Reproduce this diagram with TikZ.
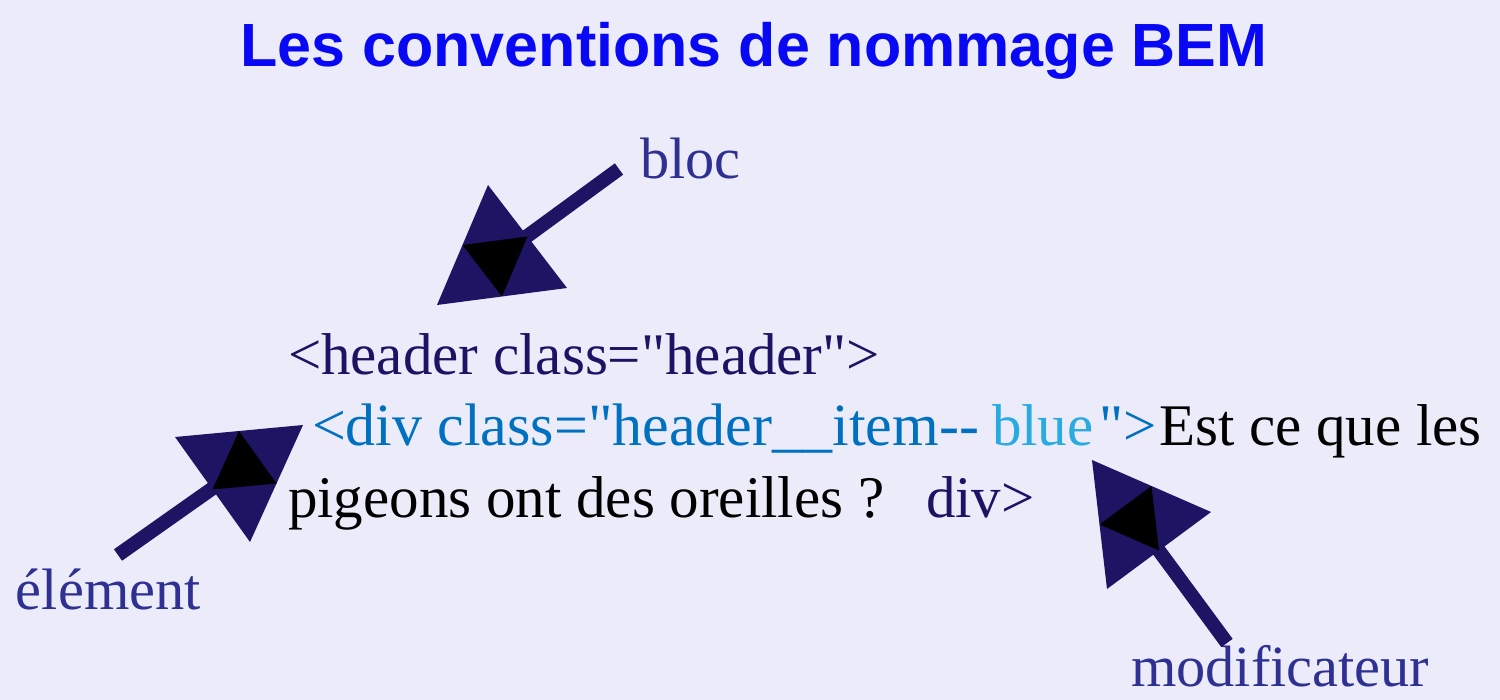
\documentclass[tikz,border=0pt]{standalone}
\usepackage{fontspec}
\newfontfamily\serif{Liberation Serif}
\newfontfamily\titlefont{Liberation Sans}
\usetikzlibrary{calc}
\definecolor{bgcol}{RGB}{235,235,250}
\definecolor{titleblue}{RGB}{8,8,245}
\definecolor{navytext}{RGB}{27,20,100}
\definecolor{labelnavy}{RGB}{46,49,146}
\definecolor{arrownavy}{RGB}{30,20,100}
\definecolor{codeblue}{RGB}{0,112,192}
\definecolor{lightblue}{RGB}{41,171,226}
\tikzset{
  txt/.style={anchor=base west, inner sep=0pt, outer sep=0pt},
  codetxt/.style={txt, font=\serif\fontsize{29.5}{32}\selectfont},
  labeltxt/.style={txt, text=labelnavy, font=\serif\fontsize{29.2}{32}\selectfont},
  shaft/.style={draw=arrownavy, line width=7pt},
  headtri/.style={fill=arrownavy},
  innertri/.style={fill=black}
}
\newcommand{\arrowhead}[3]{%
  \fill[headtri] (#1) -- (#2) -- (#3) -- cycle;
  \fill[innertri] ($(#1)!0.5!(#2)$) -- ($(#2)!0.5!(#3)$) -- ($(#1)!0.5!(#3)$) -- cycle;}
\begin{document}
\begin{tikzpicture}[x=0.5pt,y=-0.5pt]
\fill[bgcol] (0,0) rectangle (1500,700);
\useasboundingbox (0,0) rectangle (1500,700);

% title
\node[anchor=base, inner sep=0pt, text=titleblue, font=\titlefont\bfseries\fontsize{30.5}{33}\selectfont] (title) at (754,67) {Les conventions de nommage BEM};

% code lines
\node[codetxt, text=navytext] (line1) at (288,374) {<header class="header">};
\node[codetxt, text=codeblue, font=\serif\fontsize{30}{32}\selectfont] (line2a) at (312,445) {<div class="header\_\_item-{}-};
\node[codetxt, text=lightblue] (line2b) at (992,445) {blue};
\node[codetxt, text=codeblue] (line2c) at (1099,445) {">};
\node[codetxt, text=black] (line2d) at (1159,445) {Est ce que les};
\node[codetxt, text=black] (line3) at (288,517) {pigeons ont des oreilles ?};
\node[codetxt, text=navytext] (closediv) at (926,517) {div>};

% labels
\node[labeltxt] (bloc) at (640,179) {bloc};
\node[labeltxt] (element) at (16,609) {élément};
\node[labeltxt] (modif) at (1131,686) {modificateur};

% bloc arrow
\coordinate (blocTail) at (619,169);
\coordinate (blocTip) at (526,237);
\coordinate (bA) at (488,185);
\coordinate (bB) at (437,305);
\coordinate (bC) at (567,288);
\draw[shaft] (blocTail) -- (blocTip);
\arrowhead{bA}{bB}{bC}

% element arrow
\coordinate (elemTail) at (118,555);
\coordinate (elemTip) at (213,488);
\coordinate (eA) at (175,437);
\coordinate (eB) at (303,425);
\coordinate (eC) at (250,542);
\draw[shaft] (elemTail) -- (elemTip);
\arrowhead{eA}{eB}{eC}

% modificateur arrow
\coordinate (modTail) at (1227,643);
\coordinate (modTip) at (1157,548);
\coordinate (mA) at (1092,460);
\coordinate (mB) at (1211,512);
\coordinate (mC) at (1107,589);
\draw[shaft] (modTail) -- (modTip);
\arrowhead{mA}{mB}{mC}
\end{tikzpicture}
\end{document}
